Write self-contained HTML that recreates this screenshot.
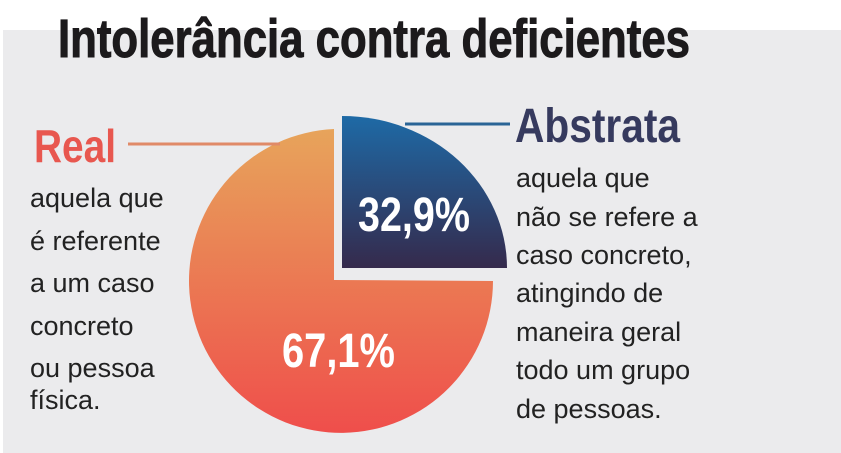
<!DOCTYPE html>
<html><head><meta charset="utf-8"><style>
html,body{margin:0;padding:0;background:#fff;}
svg{display:block;}
</style></head><body>
<svg width="841" height="453" viewBox="0 0 841 453" xmlns="http://www.w3.org/2000/svg">
<defs>
<linearGradient id="og" x1="0" y1="0" x2="0" y2="1">
<stop offset="0" stop-color="#e7a45b"/><stop offset="1" stop-color="#ef4e4b"/>
</linearGradient>
<linearGradient id="bg" x1="0" y1="0" x2="0" y2="1">
<stop offset="0" stop-color="#1e6aa6"/><stop offset="1" stop-color="#352a4c"/>
</linearGradient>
</defs>
<rect x="3" y="30" width="838" height="423" fill="#ebebed"/>
<text x="58" y="57" font-family="Liberation Sans, sans-serif" font-weight="bold" font-size="54" fill="#1c1a1c" stroke="#1c1a1c" stroke-width="1" textLength="632" lengthAdjust="spacingAndGlyphs">Intolerância contra deficientes</text>
<path d="M334,280 L334,129 A152,152 0 1 0 493,281 Z" fill="url(#og)"/>
<path d="M342,268 L342,116 A165,152 0 0 1 507,268 Z" fill="url(#bg)"/>
<line x1="128" y1="144" x2="280" y2="144" stroke="#e08a68" stroke-width="3"/>
<line x1="405" y1="124" x2="510" y2="124" stroke="#2a6496" stroke-width="3"/>
<text x="34" y="162" font-family="Liberation Sans, sans-serif" font-weight="bold" font-size="46" fill="#e8574f" textLength="82" lengthAdjust="spacingAndGlyphs">Real</text>
<text x="515" y="142" font-family="Liberation Sans, sans-serif" font-weight="bold" font-size="48" fill="#363a5e" textLength="165" lengthAdjust="spacingAndGlyphs">Abstrata</text>
<text x="358" y="231" font-family="Liberation Sans, sans-serif" font-weight="bold" font-size="48" fill="#fff" textLength="112" lengthAdjust="spacingAndGlyphs">32,9%</text>
<text x="282" y="367" font-family="Liberation Sans, sans-serif" font-weight="bold" font-size="48" fill="#fff" textLength="113" lengthAdjust="spacingAndGlyphs">67,1%</text>
<g font-family="Liberation Sans, sans-serif" font-size="27" fill="#222">
<text x="30" y="207">aquela que</text>
<text x="30" y="250">é referente</text>
<text x="30" y="292">a um caso</text>
<text x="30" y="335">concreto</text>
<text x="30" y="377">ou pessoa</text>
<text x="30" y="409">física.</text>
<text x="516" y="187">aquela que</text>
<text x="516" y="226">não se refere a</text>
<text x="516" y="264">caso concreto,</text>
<text x="516" y="302">atingindo de</text>
<text x="516" y="341">maneira geral</text>
<text x="516" y="379">todo um grupo</text>
<text x="516" y="418">de pessoas.</text>
</g>
</svg>
</body></html>
